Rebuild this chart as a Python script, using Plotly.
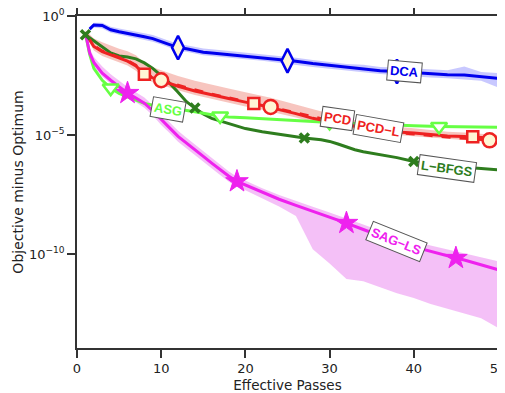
import numpy as np
import plotly.graph_objects as go

# ---------------- data (y stored as log10 of objective minus optimum) ----------------
dca_x = [1.5, 2, 3, 4, 5, 6, 7, 8, 9, 10, 11, 12, 13, 14, 15, 16, 18, 20, 22, 24, 25, 26, 28, 30, 32, 34, 36, 38, 40, 42, 44, 46, 48, 50]
dca_log = [-0.55, -0.38, -0.40, -0.58, -0.66, -0.72, -0.80, -0.87, -0.95, -1.08, -1.20, -1.33, -1.38, -1.45, -1.52, -1.55, -1.62, -1.69, -1.75, -1.82, -1.88, -1.90, -2.00, -2.08, -2.17, -2.22, -2.30, -2.33, -2.38, -2.42, -2.47, -2.48, -2.54, -2.62]
dca_up = [-0.45, -0.28, -0.28, -0.45, -0.52, -0.58, -0.65, -0.72, -0.80, -0.93, -1.05, -1.18, -1.23, -1.30, -1.37, -1.40, -1.47, -1.54, -1.60, -1.66, -1.72, -1.75, -1.85, -1.93, -2.02, -2.05, -2.14, -2.16, -2.20, -2.22, -2.28, -2.12, -2.35, -2.40]
dca_lo = [-0.62, -0.48, -0.52, -0.70, -0.78, -0.84, -0.92, -1.00, -1.08, -1.20, -1.32, -1.46, -1.50, -1.58, -1.65, -1.68, -1.75, -1.82, -1.88, -1.95, -2.00, -2.05, -2.14, -2.22, -2.30, -2.36, -2.44, -2.48, -2.54, -2.58, -2.62, -2.66, -2.72, -3.00]
dca_mx = [12, 25, 38]

pcd_x = [1, 2, 3, 4, 5, 6, 7, 8, 9, 10, 12, 14, 16, 18, 20, 21, 22, 23, 24, 26, 28, 30, 32, 34, 36, 38, 40, 42, 44, 46, 47, 48, 50]
pcd_log = [-0.72, -1.28, -1.50, -1.63, -1.78, -1.90, -2.10, -2.45, -2.60, -2.72, -2.95, -3.15, -3.32, -3.47, -3.62, -3.68, -3.76, -3.85, -3.93, -4.10, -4.30, -4.45, -4.58, -4.70, -4.80, -4.87, -4.92, -4.98, -5.04, -5.06, -5.07, -5.10, -5.15]
pcdl_log = [-0.72, -1.24, -1.46, -1.60, -1.74, -1.86, -2.06, -2.40, -2.56, -2.70, -2.90, -3.10, -3.28, -3.43, -3.58, -3.64, -3.72, -3.82, -3.90, -4.06, -4.25, -4.41, -4.55, -4.68, -4.80, -4.90, -4.97, -5.04, -5.10, -5.15, -5.17, -5.20, -5.25]
pcd_up = [-0.60, -0.95, -1.10, -1.25, -1.38, -1.48, -1.65, -1.98, -2.15, -2.28, -2.52, -2.72, -2.90, -3.05, -3.20, -3.27, -3.35, -3.44, -3.53, -3.72, -3.93, -4.13, -4.30, -4.45, -4.56, -4.65, -4.72, -4.80, -4.86, -4.90, -4.92, -4.95, -5.00]
pcd_lo = [-0.80, -1.45, -1.68, -1.80, -1.95, -2.08, -2.30, -2.62, -2.78, -2.90, -3.12, -3.32, -3.50, -3.65, -3.80, -3.86, -3.94, -4.02, -4.10, -4.27, -4.45, -4.60, -4.72, -4.84, -4.95, -5.02, -5.08, -5.13, -5.18, -5.22, -5.24, -5.27, -5.32]
pcd_mx = [8, 21, 34, 47]
pcdl_mx = [10, 23, 36, 49]

asg_x = [1, 1.5, 2, 3, 4, 5, 6, 7, 8, 9, 10, 12, 14, 16, 17, 18, 20, 22, 25, 28, 30, 33, 36, 40, 43, 46, 50]
asg_log = [-0.72, -1.60, -2.20, -2.70, -3.03, -3.25, -3.40, -3.55, -3.67, -3.75, -3.80, -3.92, -4.02, -4.15, -4.20, -4.24, -4.28, -4.31, -4.37, -4.43, -4.47, -4.52, -4.56, -4.61, -4.64, -4.66, -4.67]
asg_mx = [4, 17, 30, 43]

lbfgs_x = [1, 2, 3, 4, 5, 6, 7, 8, 9, 10, 11, 12, 13, 14, 15, 16, 18, 20, 22, 24, 27, 29, 30, 31, 32, 33, 34, 36, 38, 40, 42, 44, 46, 48, 50]
lbfgs_log = [-0.79, -1.05, -1.32, -1.55, -1.68, -1.72, -1.80, -1.97, -2.20, -2.50, -2.82, -3.20, -3.60, -3.87, -4.12, -4.30, -4.52, -4.73, -4.86, -4.97, -5.13, -5.20, -5.27, -5.38, -5.50, -5.62, -5.70, -5.82, -5.95, -6.11, -6.20, -6.28, -6.36, -6.41, -6.46]
lbfgs_mx = [1, 14, 27, 40]

sag_x = [1, 1.5, 2, 3, 4, 5, 6, 7, 8, 9, 10, 11, 12, 13, 14, 15, 16, 17, 18, 19, 20, 22, 24, 26, 28, 30, 32, 34, 36, 38, 40, 42, 44, 45, 46, 48, 50]
sag_log = [-0.72, -1.55, -1.95, -2.40, -2.70, -2.98, -3.24, -3.45, -3.66, -3.98, -4.36, -4.70, -5.06, -5.35, -5.62, -5.90, -6.18, -6.45, -6.72, -6.95, -7.10, -7.42, -7.70, -7.96, -8.20, -8.45, -8.70, -8.97, -9.25, -9.50, -9.70, -9.90, -10.08, -10.17, -10.25, -10.45, -10.66]
sag_up = [-0.65, -1.35, -1.72, -2.12, -2.45, -2.72, -2.98, -3.20, -3.42, -3.75, -4.12, -4.45, -4.82, -5.12, -5.40, -5.68, -5.98, -6.25, -6.52, -6.75, -6.92, -7.24, -7.52, -7.78, -8.02, -8.26, -8.50, -8.76, -9.02, -9.25, -9.45, -9.64, -9.80, -9.88, -9.95, -10.12, -10.30]
sag_lo = [-0.78, -1.70, -2.10, -2.55, -2.85, -3.15, -3.40, -3.62, -3.85, -4.18, -4.58, -4.92, -5.28, -5.58, -5.85, -6.12, -6.40, -6.68, -6.95, -7.18, -7.32, -7.65, -8.00, -8.40, -9.80, -10.40, -11.05, -11.15, -11.40, -11.65, -11.85, -12.10, -12.30, -12.40, -12.50, -12.70, -13.10]
sag_mx = [6, 19, 32, 45]

x_ticks = [0, 10, 20, 30, 40, 50]
y_tickvals = [1, 1e-5, 1e-10]
y_ticktext = ["10<sup>0</sup>", "10<sup>−5</sup>", "10<sup>−10</sup>"]

# label text, position (x, log10 y) and angle
labels = [
    ("DCA", 38.95, -2.33, 5, "#0000EE"),
    ("PCD", 30.9, -4.29, 8, "#EE2222"),
    ("PCD−L", 35.8, -4.71, 10, "#EE2222"),
    ("L−BFGS", 43.9, -6.39, 8, "#2E7D1E"),
    ("SAG−LS", 37.97, -9.47, 22, "#EE22EE"),
    ("ASG", 10.85, -3.94, 10, "#66FF44"),
]

# ---------------- styles ----------------
BLUE = "#0000EE"
RED = "#EE2222"
LIME = "#66FF44"
DGREEN = "#2E7D1E"
MAG = "#EE22EE"
CREAM = "#FFF6D5"


def p10(a):
    return np.power(10.0, np.array(a, dtype=float))


def interp_log(xs, ys, xq):
    return np.interp(xq, xs, ys)


fig = go.Figure()


def band(xs, up, lo, color):
    fig.add_trace(go.Scatter(x=list(xs) + list(xs)[::-1], y=list(p10(up)) + list(p10(lo))[::-1],
                             fill="toself", fillcolor=color, line=dict(width=0),
                             mode="lines", hoverinfo="skip", showlegend=False))


band(dca_x, dca_up, dca_lo, "rgba(110,110,255,0.38)")
band(pcd_x, pcd_up, pcd_lo, "rgba(235,110,95,0.40)")
band(sag_x, sag_up, sag_lo, "rgba(235,140,240,0.55)")


def line(xs, ys, color, dash="solid", width=3):
    fig.add_trace(go.Scatter(x=xs, y=p10(ys), mode="lines",
                             line=dict(color=color, width=width, dash=dash),
                             showlegend=False, hoverinfo="skip"))


def markers(xs, ys, mx, color, symbol, size, fill, lw=2.5):
    fig.add_trace(go.Scatter(x=mx, y=p10(interp_log(xs, ys, mx)), mode="markers",
                             marker=dict(symbol=symbol, size=size, color=fill,
                                         line=dict(color=color, width=lw)),
                             showlegend=False, hoverinfo="skip"))


line(dca_x, dca_log, BLUE)
line(lbfgs_x, lbfgs_log, DGREEN)
line(asg_x, asg_log, LIME)
line(pcd_x, pcd_log, RED)
line(pcd_x, pcdl_log, RED, dash="dash", width=2.5)
line(sag_x, sag_log, MAG)

markers(dca_x, dca_log, dca_mx, BLUE, "diamond-tall", 17, CREAM)
markers(lbfgs_x, lbfgs_log, lbfgs_mx, DGREEN, "x-thin", 9, DGREEN, lw=3.5)
markers(asg_x, asg_log, asg_mx, LIME, "triangle-down", 14, "white")
markers(pcd_x, pcd_log, pcd_mx, RED, "square", 11, CREAM)
markers(pcd_x, pcdl_log, pcdl_mx, RED, "circle", 14, CREAM)
markers(sag_x, sag_log, sag_mx, MAG, "star", 17, MAG, lw=1)

for text, lx, ly, ang, col in labels:
    fig.add_annotation(x=lx, y=ly, text="<b>" + text + "</b>", showarrow=False, textangle=ang,
                       font=dict(family="Liberation Sans, Arial", size=13, color=col),
                       bgcolor="white", bordercolor="#555555", borderwidth=1, borderpad=2)

axis_common = dict(showline=True, linecolor="#333333", linewidth=1.5, mirror="ticks",
                   ticks="outside", ticklen=8, tickwidth=1.5, tickcolor="#333333",
                   showgrid=False, zeroline=False, automargin=False,
                   ticklabeloverflow="allow",
                   tickfont=dict(family="DejaVu Sans", size=13, color="#222222"))

# the page body has an 8px margin, so the figure is made 8px smaller on each axis
fig.update_layout(
    width=497, height=385,
    margin=dict(l=69, r=7, t=8, b=45),
    paper_bgcolor="white", plot_bgcolor="white",
    xaxis=dict(range=[0, 50], tickvals=x_ticks, title=dict(text="Effective Passes", standoff=5,
               font=dict(family="DejaVu Sans", size=13.5, color="#222222")), **axis_common),
    yaxis=dict(type="log", range=[-13.95, 0], tickvals=y_tickvals, ticktext=y_ticktext,
               title=dict(text="Objective minus Optimum", standoff=2,
                          font=dict(family="DejaVu Sans", size=14, color="#222222")), **axis_common),
)

fig.write_html("out.html")
